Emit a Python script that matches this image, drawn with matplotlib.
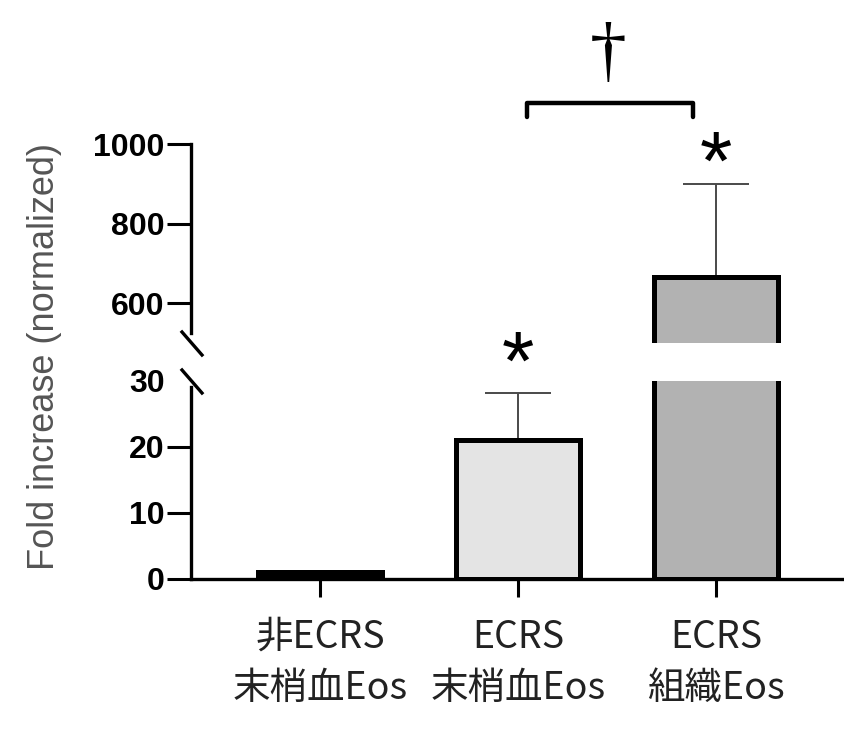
import matplotlib.pyplot as plt
from matplotlib.lines import Line2D
import numpy as np

groups = ['非ECRS\n末梢血Eos', 'ECRS\n末梢血Eos', 'ECRS\n組織Eos']
means = [1.0, 21.0, 665.0]
errors = [0.0, 7.2, 235.0]
fills = ['black', '#e4e4e4', '#b2b2b2']
top_ticks = [600, 800, 1000]
bottom_ticks = [0, 10, 20, 30]

plt.rcParams['font.family'] = ['Liberation Sans', 'Noto Sans CJK JP', 'DejaVu Sans']

W, H = 845, 737
fig = plt.figure(figsize=(W / 100, H / 100), dpi=100)


def px_axes(left, top, right, bottom):
    return fig.add_axes([left / W, 1 - bottom / H, (right - left) / W, (bottom - top) / H])


def px_line(xs, ys, **kw):
    fig.add_artist(Line2D([v / W for v in xs], [1 - v / H for v in ys], **kw))


ax_top = px_axes(191, 144, 845, 343)
ax_bot = px_axes(191, 381, 845, 579)

x = np.arange(len(groups))
for ax in (ax_top, ax_bot):
    ax.errorbar(x, means, yerr=[np.zeros(len(x)), errors], fmt='none', ecolor='#4a4a4a',
                elinewidth=1.4, capsize=24, capthick=1.4, zorder=1)
    ax.bar(x, means, width=0.626, color=fills, edgecolor='black', linewidth=3.6, zorder=2)
    ax.set_xlim(-0.652, 2.65)
    ax.spines[['top', 'right']].set_visible(False)
    ax.spines['left'].set_linewidth(2.4)
    ax.tick_params(axis='y', length=17, width=2.2, pad=2)

# upper segment
ax_top.set_ylim(500, 1000)
ax_top.set_yticks(top_ticks)
ax_top.set_yticklabels([str(t) for t in top_ticks], fontweight='bold', fontsize=23)
ax_top.spines['bottom'].set_visible(False)
ax_top.spines['left'].set_bounds(525, 1000)
ax_top.set_xticks([])

# lower segment
ax_bot.set_ylim(0, 30)
ax_bot.set_yticks(bottom_ticks)
ax_bot.set_yticklabels([str(t) for t in bottom_ticks], fontweight='bold', fontsize=23)
ax_bot.yaxis.get_major_ticks()[-1].tick1line.set_visible(False)
ax_bot.spines['left'].set_bounds(0, 29.1)
ax_bot.spines['bottom'].set_linewidth(2.4)
ax_bot.set_xticks(x)
ax_bot.set_xticklabels(groups, fontsize=27, family=['Noto Sans CJK JP', 'DejaVu Sans'],
                       color='#222222', linespacing=1.4)
ax_bot.tick_params(axis='x', length=13, width=2.2, pad=15)

# axis break marks
px_line([182, 202], [332, 355], color='black', lw=2.4)
px_line([182, 202], [370, 393], color='black', lw=2.4)

# significance marks
ax_bot.text(1, 32.1, '*', ha='center', va='center', fontsize=60, clip_on=False)
ax_top.text(2, 940, '*', ha='center', va='center', fontsize=60, clip_on=False)
ax_top.plot([1.045, 1.045, 1.884, 1.884], [1068, 1102, 1102, 1068], color='black', lw=3.2,
            clip_on=False, solid_joinstyle='round', solid_capstyle='round')
ax_top.text(1.455, 1222, '†', family='Liberation Serif', fontsize=53, ha='center', va='center',
            clip_on=False)

fig.text(45 / W, 1 - 357 / H, 'Fold increase (normalized)', rotation=90, ha='center', va='center',
         fontsize=26, color='#555555')

fig.savefig('out.png', dpi=100)
